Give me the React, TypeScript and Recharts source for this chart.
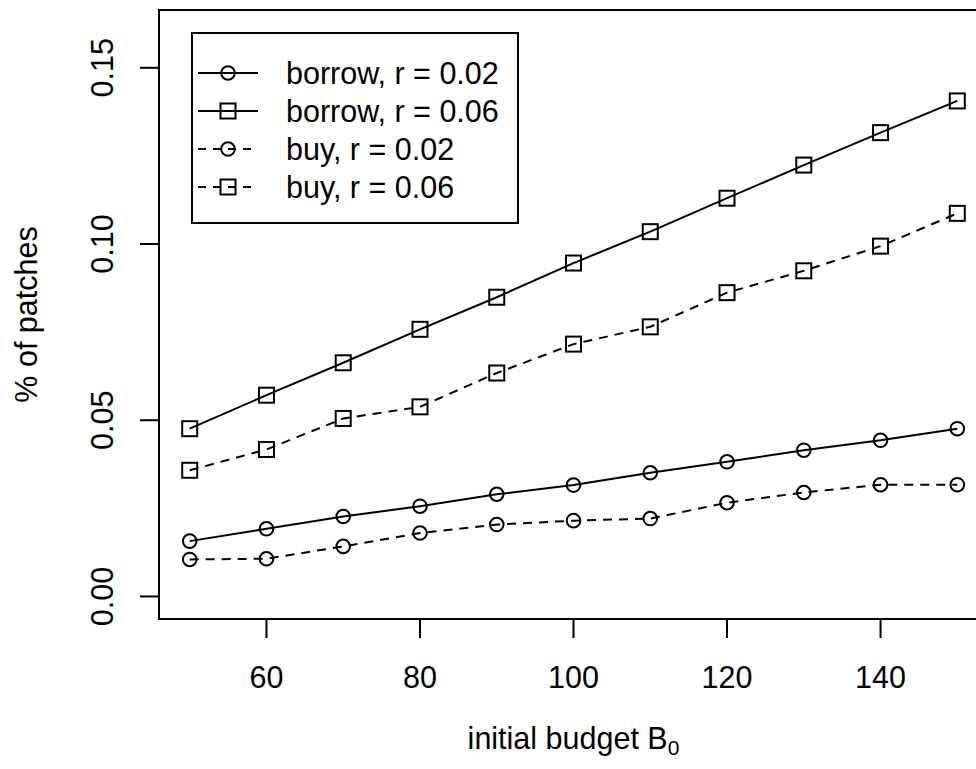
import { LineChart, Line, XAxis, YAxis, ReferenceArea, Legend, Label } from 'recharts'

// initial budget B0 on x, share of patches on y
const budgets = [50, 60, 70, 80, 90, 100, 110, 120, 130, 140, 150]
const borrowR002 = [0.0157, 0.0192, 0.0227, 0.0256, 0.029, 0.0316, 0.0351, 0.0382, 0.0415, 0.0443, 0.0476]
const borrowR006 = [0.0476, 0.0571, 0.0663, 0.0758, 0.0849, 0.0946, 0.1035, 0.113, 0.1224, 0.1316, 0.1406]
const buyR002 = [0.0105, 0.0107, 0.0142, 0.018, 0.0204, 0.0215, 0.0221, 0.0266, 0.0295, 0.0317, 0.0317]
const buyR006 = [0.0358, 0.0417, 0.0505, 0.0538, 0.0634, 0.0716, 0.0765, 0.0862, 0.0924, 0.0994, 0.1087]

const xTicks = [60, 80, 100, 120, 140]
const yTicks = [0, 0.05, 0.1, 0.15]

// R-style 4% padding around the ranges
const xDomain: [number, number] = [46, 154]
const yDomain: [number, number] = [-0.0064, 0.1664]

const FONT = '"Liberation Sans", Arial, sans-serif'
const FS = 30.5
const DASH = '9 7'

const series = [
  { key: 'borrow2', name: 'borrow, r = 0.02', values: borrowR002, dashed: false, square: false },
  { key: 'borrow6', name: 'borrow, r = 0.06', values: borrowR006, dashed: false, square: true },
  { key: 'buy2', name: 'buy, r = 0.02', values: buyR002, dashed: true, square: false },
  { key: 'buy6', name: 'buy, r = 0.06', values: buyR006, dashed: true, square: true },
]

const data = budgets.map((b, i) => {
  const row: Record<string, number> = { b }
  series.forEach((s) => {
    row[s.key] = s.values[i]
  })
  return row
})

function Marker({ cx, cy, square }: { cx: number; cy: number; square: boolean }) {
  if (square) {
    return <rect x={cx - 7.5} y={cy - 7.5} width={15} height={15} fill="none" stroke="#000" strokeWidth={2} />
  }
  return <circle cx={cx} cy={cy} r={6.8} fill="none" stroke="#000" strokeWidth={2} />
}

function XTick({ x, y, payload }: any) {
  return (
    <text x={x} y={y + 37} textAnchor="middle" dominantBaseline="central" fontSize={FS} fontFamily={FONT} fill="#000">
      {payload.value}
    </text>
  )
}

function YTick({ x, y, payload }: any) {
  const cx = x - 36
  return (
    <text
      x={cx}
      y={y}
      transform={`rotate(-90, ${cx}, ${y})`}
      textAnchor="middle"
      dominantBaseline="central"
      fontSize={FS}
      fontFamily={FONT}
      fill="#000"
    >
      {Number(payload.value).toFixed(2)}
    </text>
  )
}

function LegendBox() {
  return (
    <svg width={328} height={192} style={{ display: 'block' }}>
      <rect x={1} y={1} width={326} height={190} fill="#fff" stroke="#000" strokeWidth={2} />
      {series.map((s, i) => {
        const cy = 41 + i * 38
        return (
          <g key={s.key}>
            <line x1={7} x2={67} y1={cy} y2={cy} stroke="#000" strokeWidth={2} strokeDasharray={s.dashed ? '8 7' : undefined} />
            <Marker cx={37} cy={cy} square={s.square} />
            <text x={95} y={cy} dominantBaseline="central" fontSize={FS} fontFamily={FONT} fill="#000">
              {s.name}
            </text>
          </g>
        )
      })}
    </svg>
  )
}

export default function App() {
  return (
    <div style={{ position: 'fixed', left: 0, top: 0, width: 976, height: 769, overflow: 'hidden', background: '#fff' }}>
      <LineChart width={1000} height={769} data={data} margin={{ top: 10, right: 12, bottom: 90, left: 99 }}>
        <XAxis
          dataKey="b"
          type="number"
          domain={xDomain}
          ticks={xTicks}
          interval={0}
          allowDataOverflow
          height={60}
          tickSize={19}
          tickLine={{ stroke: '#000', strokeWidth: 2 }}
          axisLine={{ stroke: '#000', strokeWidth: 2 }}
          tick={XTick}
        >
          <Label
            content={({ viewBox }: any) => (
              <text
                x={viewBox.x + viewBox.width / 2}
                y={viewBox.y + 119}
                textAnchor="middle"
                dominantBaseline="central"
                fontSize={FS}
                fontFamily={FONT}
                fill="#000"
              >
                initial budget B
                <tspan fontSize={21} dy={9}>0</tspan>
              </text>
            )}
          />
        </XAxis>
        <YAxis
          type="number"
          domain={yDomain}
          ticks={yTicks}
          interval={0}
          allowDataOverflow
          width={60}
          tickSize={19}
          tickLine={{ stroke: '#000', strokeWidth: 2 }}
          axisLine={{ stroke: '#000', strokeWidth: 2 }}
          tick={YTick}
        >
          <Label
            content={({ viewBox }: any) => {
              const cx = viewBox.x - 73
              const cy = viewBox.y + viewBox.height / 2
              return (
                <text
                  x={cx}
                  y={cy}
                  transform={`rotate(-90, ${cx}, ${cy})`}
                  textAnchor="middle"
                  dominantBaseline="central"
                  fontSize={FS}
                  fontFamily={FONT}
                  fill="#000"
                >
                  % of patches
                </text>
              )
            }}
          />
        </YAxis>
        <ReferenceArea
          x1={xDomain[0]}
          x2={xDomain[1]}
          y1={yDomain[0]}
          y2={yDomain[1]}
          fill="none"
          stroke="#000"
          strokeWidth={2}
          ifOverflow="visible"
        />
        {series.map((s) => (
          <Line
            key={s.key}
            dataKey={s.key}
            name={s.name}
            type="linear"
            stroke="#000"
            strokeWidth={2}
            strokeDasharray={s.dashed ? DASH : undefined}
            isAnimationActive={false}
            activeDot={false}
            dot={(p: any) => <Marker key={`${s.key}-${p.index}`} cx={p.cx} cy={p.cy} square={s.square} />}
          />
        ))}
        <Legend
          layout="vertical"
          align="center"
          verticalAlign="middle"
          wrapperStyle={{ left: 191, top: 32, width: 328, height: 192 }}
          content={LegendBox}
        />
      </LineChart>
    </div>
  )
}
